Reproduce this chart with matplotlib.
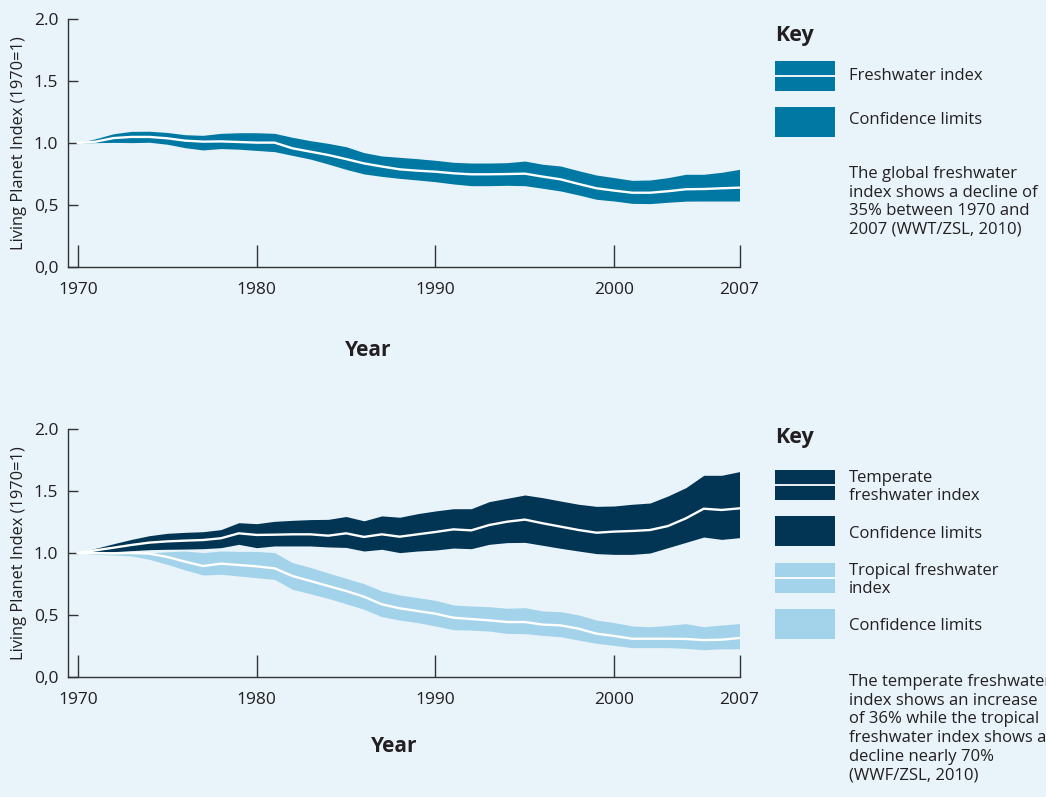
import matplotlib.pyplot as plt
from matplotlib.patches import Rectangle
from matplotlib.lines import Line2D

years = list(range(1970, 2008))

# global freshwater index (top chart)
fw_mid = [1.0, 1.011, 1.04, 1.049, 1.049, 1.038, 1.019, 1.011, 1.013, 1.008,
          1.003, 1.003, 0.957, 0.93, 0.903, 0.87, 0.835, 0.81, 0.787, 0.776,
          0.768, 0.755, 0.747, 0.747, 0.749, 0.752, 0.728, 0.706, 0.669, 0.634,
          0.615, 0.598, 0.598, 0.61, 0.626, 0.628, 0.634, 0.639]
fw_hi = [1.0, 1.035, 1.075, 1.094, 1.095, 1.085, 1.067, 1.062, 1.078, 1.083,
         1.083, 1.078, 1.046, 1.019, 0.997, 0.97, 0.922, 0.895, 0.884, 0.873,
         0.86, 0.844, 0.838, 0.838, 0.841, 0.854, 0.828, 0.814, 0.776, 0.741,
         0.72, 0.698, 0.701, 0.72, 0.747, 0.747, 0.763, 0.787]
fw_lo = [1.0, 1.003, 1.005, 1.003, 1.006, 0.99, 0.962, 0.944, 0.955, 0.95,
         0.94, 0.93, 0.9, 0.87, 0.83, 0.787, 0.75, 0.73, 0.714, 0.701,
         0.687, 0.669, 0.655, 0.655, 0.658, 0.655, 0.634, 0.612, 0.58, 0.545,
         0.531, 0.512, 0.51, 0.521, 0.53, 0.531, 0.531, 0.531]

# temperate freshwater index (bottom chart)
tmp_mid = [1.0, 1.022, 1.043, 1.065, 1.084, 1.094, 1.1, 1.105, 1.119, 1.159,
           1.146, 1.148, 1.151, 1.151, 1.14, 1.159, 1.13, 1.151, 1.132, 1.151,
           1.17, 1.191, 1.183, 1.226, 1.253, 1.27, 1.24, 1.213, 1.186, 1.164,
           1.173, 1.178, 1.186, 1.218, 1.28, 1.358, 1.348, 1.361]
tmp_hi = [1.0, 1.038, 1.075, 1.11, 1.14, 1.159, 1.167, 1.172, 1.189, 1.245,
          1.237, 1.256, 1.264, 1.27, 1.272, 1.295, 1.26, 1.3, 1.289, 1.318,
          1.34, 1.358, 1.358, 1.415, 1.442, 1.469, 1.447, 1.42, 1.394, 1.377,
          1.38, 1.394, 1.404, 1.461, 1.528, 1.628, 1.628, 1.658]
tmp_lo = [1.0, 1.003, 1.011, 1.019, 1.027, 1.03, 1.032, 1.035, 1.043, 1.07,
          1.043, 1.057, 1.057, 1.057, 1.049, 1.045, 1.016, 1.03, 1.003, 1.016,
          1.024, 1.04, 1.035, 1.07, 1.084, 1.086, 1.062, 1.038, 1.016, 0.995,
          0.989, 0.989, 1.0, 1.043, 1.086, 1.129, 1.11, 1.124]

# tropical freshwater index (bottom chart)
trp_mid = [1.0, 1.0, 0.997, 1.0, 0.995, 0.968, 0.93, 0.895, 0.914, 0.903,
           0.892, 0.876, 0.814, 0.774, 0.733, 0.693, 0.647, 0.585, 0.553, 0.531,
           0.509, 0.477, 0.466, 0.456, 0.442, 0.442, 0.421, 0.415, 0.388, 0.348,
           0.329, 0.307, 0.307, 0.307, 0.305, 0.296, 0.299, 0.313]
trp_hi = [1.0, 1.0, 1.0, 1.0, 1.0, 1.01, 1.016, 1.003, 1.016, 1.013,
          1.013, 1.003, 0.922, 0.884, 0.838, 0.795, 0.752, 0.693, 0.66, 0.639,
          0.617, 0.58, 0.571, 0.566, 0.553, 0.558, 0.531, 0.526, 0.499, 0.458,
          0.437, 0.41, 0.404, 0.415, 0.429, 0.404, 0.418, 0.429]
trp_lo = [1.0, 0.989, 0.984, 0.976, 0.949, 0.908, 0.863, 0.822, 0.828, 0.814,
          0.8, 0.787, 0.706, 0.671, 0.633, 0.59, 0.545, 0.485, 0.458, 0.437,
          0.41, 0.38, 0.377, 0.369, 0.35, 0.348, 0.334, 0.323, 0.296, 0.27,
          0.253, 0.235, 0.235, 0.235, 0.229, 0.218, 0.226, 0.226]

xticks = [1970, 1980, 1990, 2000, 2007]
yticks = [0, 0.5, 1.0, 1.5, 2.0]
ytick_labels = ['0,0', '0,5', '1.0', '1.5', '2.0']

BG = '#e8f3fa'
TEAL = '#0078a4'
NAVY = '#023454'
LIGHT = '#a3d3eb'
INK = '#231f20'

plt.rcParams['font.family'] = ['Open Sans', 'DejaVu Sans']

W, H = 1046, 797
fig = plt.figure(figsize=(W / 100, H / 100), dpi=100, facecolor=BG)


def fx(px):
    return px / W


def fy(py):
    return 1 - py / H


def setup(ax):
    ax.set_facecolor(BG)
    ax.set_xlim(1969.45, 2007)
    ax.set_ylim(0, 2)
    for s in ['top', 'right']:
        ax.spines[s].set_visible(False)
    for s in ['left', 'bottom']:
        ax.spines[s].set_color('#333333')
        ax.spines[s].set_linewidth(1.0)
    ax.set_xticks(xticks)
    ax.set_yticks(yticks)
    ax.set_yticklabels(ytick_labels)
    ax.tick_params(axis='x', direction='in', length=16, width=1.0,
                   color='#333333', pad=11, labelsize=12.5, labelcolor=INK)
    ax.tick_params(axis='y', direction='in', length=7, width=1.0,
                   color='#333333', pad=7, labelsize=12.5, labelcolor=INK)
    ax.set_ylabel('Living Planet Index (1970=1)', fontsize=11.8, color=INK,
                  labelpad=5)


# top chart
ax1 = fig.add_axes([fx(68), fy(266.7), fx(739.5) - fx(68), fy(19.3) - fy(266.7)])
setup(ax1)
ax1.fill_between(years, fw_lo, fw_hi, color=TEAL, lw=0)
ax1.plot(years, fw_mid, color='white', lw=1.7)

# bottom chart
ax2 = fig.add_axes([fx(68), fy(676.7), fx(739.5) - fx(68), fy(429.3) - fy(676.7)])
setup(ax2)
ax2.fill_between(years, trp_lo, trp_hi, color=LIGHT, lw=0)
ax2.plot(years, trp_mid, color='white', lw=1.7)
ax2.fill_between(years, tmp_lo, tmp_hi, color=NAVY, lw=0)
ax2.plot(years, tmp_mid, color='white', lw=1.7)

fig.text(fx(368), fy(350), 'Year', ha='center', va='center', fontsize=15,
         fontweight='bold', color=INK)
fig.text(fx(394), fy(746), 'Year', ha='center', va='center', fontsize=15,
         fontweight='bold', color=INK)


def key_box(top, color, line):
    fig.add_artist(Rectangle((fx(775), fy(top + 30)), fx(60), fy(top) - fy(top + 30),
                             transform=fig.transFigure, color=color, lw=0))
    if line:
        fig.add_artist(Line2D([fx(775), fx(835)], [fy(top + 15), fy(top + 15)],
                              transform=fig.transFigure, color='white', lw=1.3))


def key_text(y, s):
    fig.text(fx(849), fy(y), s, ha='left', va='center', fontsize=12,
             color=INK, linespacing=1.2)


# top key
fig.text(fx(775), fy(36), 'Key', ha='left', va='center', fontsize=15.5,
         fontweight='bold', color=INK)
key_box(61, TEAL, True)
key_text(76, 'Freshwater index')
key_box(107, TEAL, False)
key_text(120, 'Confidence limits')
fig.text(fx(849), fy(166), 'The global freshwater\nindex shows a decline of\n'
         '35% between 1970 and\n2007 (WWT/ZSL, 2010)', ha='left', va='top',
         fontsize=12, color=INK, linespacing=1.22)

# bottom key
fig.text(fx(775), fy(437), 'Key', ha='left', va='center', fontsize=15.5,
         fontweight='bold', color=INK)
key_box(470, NAVY, True)
key_text(487, 'Temperate\nfreshwater index')
key_box(516, NAVY, False)
key_text(534, 'Confidence limits')
key_box(563, LIGHT, True)
key_text(580, 'Tropical freshwater\nindex')
key_box(609, LIGHT, False)
key_text(626, 'Confidence limits')
fig.text(fx(849), fy(674), 'The temperate freshwater\nindex shows an increase\n'
         'of 36% while the tropical\nfreshwater index shows a\n'
         'decline nearly 70%\n(WWF/ZSL, 2010)', ha='left', va='top',
         fontsize=12, color=INK, linespacing=1.22)

fig.savefig('out.png', dpi=100, facecolor=BG)
